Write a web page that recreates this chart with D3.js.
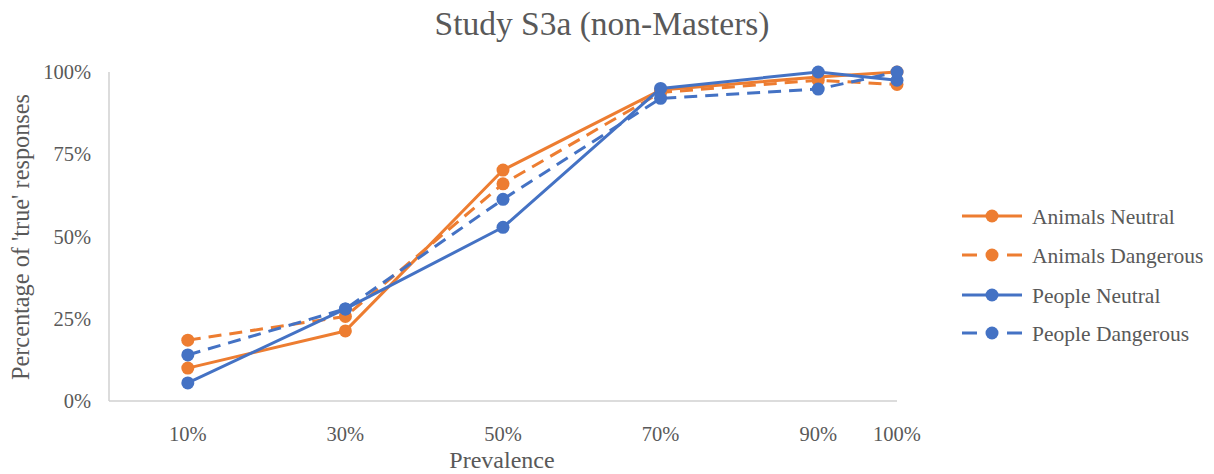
<!DOCTYPE html>
<html>
<head>
<meta charset="utf-8">
<script src="https://cdn.jsdelivr.net/npm/d3@7"></script>
<style>
  html, body { margin: 0; padding: 0; background: #fff; }
  svg text { font-family: "Liberation Serif", "Times New Roman", serif; fill: #595959; }
</style>
</head>
<body>
<svg id="chart" width="1214" height="474"></svg>
<script>
// ================= DATA ===================
const prevalence = [10, 30, 50, 70, 90, 100];
const tickLabels = ["10%", "30%", "50%", "70%", "90%", "100%"];
const yTicks = [0, 25, 50, 75, 100];

const seriesNames = ["Animals Neutral", "Animals Dangerous", "People Neutral", "People Dangerous"];
const animalsNeutral = [10, 21.3, 70.2, 94.5, 98.5, 100];
const animalsDangerous = [18.5, 25.7, 66, 93.8, 97.5, 96.2];
const peopleNeutral = [5.5, 28, 52.8, 95, 100, 97.5];
const peopleDangerous = [14, 28, 61.3, 92, 94.8, 100];

// ================= SETTINGS ===================
const orange = "#ED7D31";
const blue = "#4472C4";
const series = [
  { name: seriesNames[0], values: animalsNeutral, color: orange, dashed: false },
  { name: seriesNames[1], values: animalsDangerous, color: orange, dashed: true },
  { name: seriesNames[2], values: peopleNeutral, color: blue, dashed: false },
  { name: seriesNames[3], values: peopleDangerous, color: blue, dashed: true },
];

const svg = d3.select("#chart");

// plot area
const x = d3.scaleLinear().domain([0, 100]).range([109, 897]);
const y = d3.scaleLinear().domain([0, 100]).range([401, 72]);

// ================= TITLE ===================
svg.append("text")
  .attr("x", 602)
  .attr("y", 35)
  .attr("text-anchor", "middle")
  .attr("font-size", 33.5)
  .text("Study S3a (non-Masters)");

// ================= AXES ===================
const axisColor = "#d0d0d0";
svg.append("line")
  .attr("x1", x(0)).attr("x2", x(0))
  .attr("y1", y(100)).attr("y2", y(0))
  .attr("stroke", axisColor).attr("stroke-width", 1.5);
svg.append("line")
  .attr("x1", x(0)).attr("x2", x(100))
  .attr("y1", y(0)).attr("y2", y(0))
  .attr("stroke", axisColor).attr("stroke-width", 1.5);

// y tick labels
svg.selectAll(".ytick")
  .data(yTicks)
  .join("text")
  .attr("class", "ytick")
  .attr("x", 91)
  .attr("y", (d) => y(d))
  .attr("dy", "0.35em")
  .attr("text-anchor", "end")
  .attr("font-size", 20.5)
  .text((d) => d + "%");

// x tick labels
svg.selectAll(".xtick")
  .data(prevalence)
  .join("text")
  .attr("class", "xtick")
  .attr("x", (d) => x(d))
  .attr("y", 441)
  .attr("text-anchor", "middle")
  .attr("font-size", 20.5)
  .text((d, i) => tickLabels[i]);

// axis titles
svg.append("text")
  .attr("x", 502)
  .attr("y", 468)
  .attr("text-anchor", "middle")
  .attr("font-size", 24)
  .text("Prevalence");

svg.append("text")
  .attr("transform", "translate(29,237) rotate(-90)")
  .attr("text-anchor", "middle")
  .attr("font-size", 24.3)
  .text("Percentage of 'true' responses");

// ================= LINES ===================
const line = d3.line()
  .x((d, i) => x(prevalence[i]))
  .y((d) => y(d));

const g = svg.append("g");

series.forEach((s) => {
  g.append("path")
    .datum(s.values)
    .attr("d", line)
    .attr("fill", "none")
    .attr("stroke", s.color)
    .attr("stroke-width", 3)
    .attr("stroke-linejoin", "round")
    .attr("stroke-dasharray", s.dashed ? "13,8" : null);

  g.selectAll(null)
    .data(s.values)
    .join("circle")
    .attr("cx", (d, i) => x(prevalence[i]))
    .attr("cy", (d) => y(d))
    .attr("r", 6.5)
    .attr("fill", s.color);
});

// ================= LEGEND ===================
const legendRows = [216, 255, 295, 333];
const legend = svg.append("g");

series.forEach((s, i) => {
  const row = legend.append("g").attr("transform", `translate(0,${legendRows[i]})`);
  row.append("line")
    .attr("x1", 962).attr("x2", 1022)
    .attr("y1", 0).attr("y2", 0)
    .attr("stroke", s.color)
    .attr("stroke-width", 3)
    .attr("stroke-dasharray", s.dashed ? "15,30,15" : null);
  row.append("circle")
    .attr("cx", 992).attr("cy", 0).attr("r", 6.5)
    .attr("fill", s.color);
  row.append("text")
    .attr("x", 1032)
    .attr("y", 0)
    .attr("dy", "0.35em")
    .attr("font-size", 21.5)
    .text(s.name);
});
</script>
</body>
</html>
